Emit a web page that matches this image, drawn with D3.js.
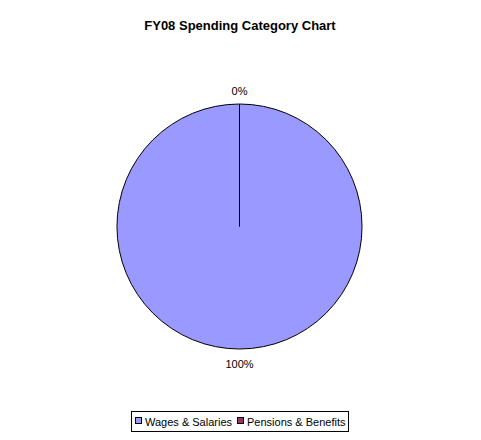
<!DOCTYPE html>
<html><head><meta charset="utf-8">
<script src="https://cdn.jsdelivr.net/npm/d3@7"></script>
<style>body{margin:0;background:#fff}svg{display:block}text{font-family:Arial,"Liberation Sans",sans-serif}</style>
</head><body>
<svg id="c" width="481" height="440"></svg>
<script>
const categories = ["Wages & Salaries", "Pensions & Benefits"];
const values = [100, 0];
const colors = ["#9999FF", "#993366"];
const title = "FY08 Spending Category Chart";

const svg = d3.select("#c");
svg.append("rect").attr("width",481).attr("height",440).attr("fill","#fff");
svg.append("text").attr("x",240).attr("y",30).attr("text-anchor","middle")
  .attr("font-size","13px").attr("font-weight","bold").text(title);

const cx = 239.5, cy = 226.5, r = 122.5;
const data = categories.map((c,i)=>({cat:c, value:values[i], color:colors[i]}));
const pie = d3.pie().value(d=>d.value).sort(null);
const arcs = pie(data);
const arc = d3.arc().innerRadius(0).outerRadius(r);
const g = svg.append("g").attr("transform",`translate(${cx},${cy})`);
g.selectAll("path").data(arcs).join("path")
  .attr("d",arc).attr("fill",d=>d.data.color)
  .attr("stroke","#000").attr("stroke-width",1);

const total = d3.sum(values);
const fmt = v => Math.round(v/total*100) + "%";
const labelR = r + 9.5;
g.selectAll("text.lbl").data(arcs).join("text").attr("class","lbl")
  .attr("text-anchor","middle").attr("font-size","11px")
  .attr("x",d=>{const a=(d.startAngle+d.endAngle)/2; return Math.sin(a)*labelR;})
  .attr("y",d=>{const a=(d.startAngle+d.endAngle)/2; return -Math.cos(a)*labelR;})
  .attr("dy",d=>{const a=(d.startAngle+d.endAngle)/2; return Math.cos(a)>0 ? "0em" : "0.85em";})
  .text(d=>fmt(d.data.value));

// legend
const lg = svg.append("g");
lg.append("rect").attr("x",131.5).attr("y",411.5).attr("width",217).attr("height",20)
  .attr("fill","#fff").attr("stroke","#000");
const itemX = [135, 237];
data.forEach((d,i)=>{
  lg.append("rect").attr("x",itemX[i]+0.5).attr("y",417.5).attr("width",6).attr("height",6)
    .attr("fill",d.color).attr("stroke","#000");
  lg.append("text").attr("x",itemX[i]+10).attr("y",425.5).attr("font-size","11px").text(d.cat);
});
</script>
</body></html>
